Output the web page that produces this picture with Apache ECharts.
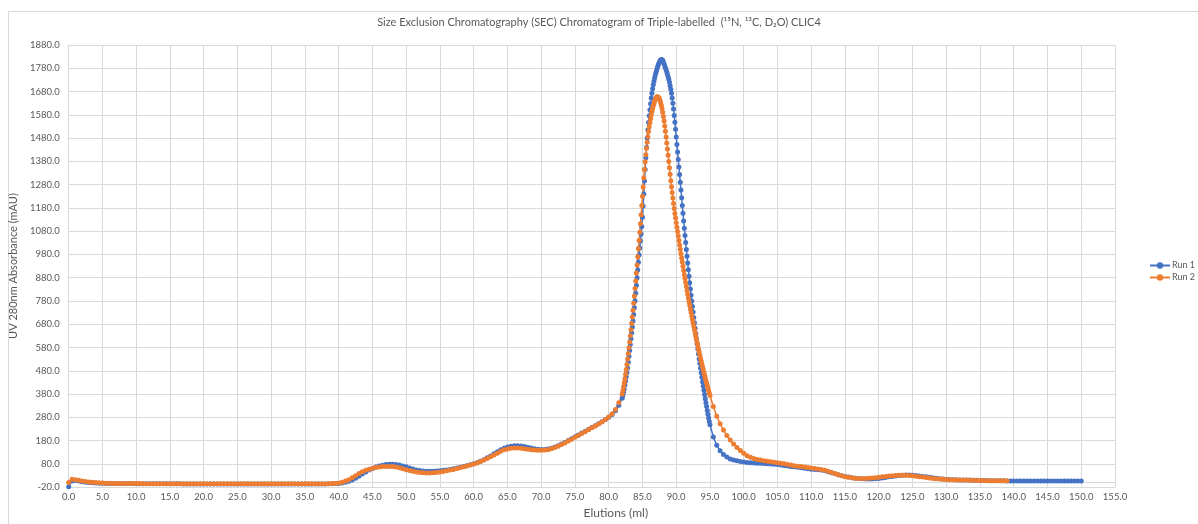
<!DOCTYPE html>
<html>
<head>
<meta charset="utf-8">
<script src="https://cdn.jsdelivr.net/npm/echarts@6/dist/echarts.min.js"></script>
<style>
  html, body { margin: 0; padding: 0; background: #ffffff; }
  #chart { width: 1198px; height: 524px; }
</style>
</head>
<body>
<div id="chart"></div>
<script>
// SEC chromatogram of triple-labelled CLIC4: UV 280 nm absorbance (mAU) against elution volume (ml)

const chartTitle = 'Size Exclusion Chromatography (SEC) Chromatogram of Triple-labelled  (¹⁵N, ¹³C, D₂O) CLIC4';
const xAxisTitle = 'Elutions (ml)';
const yAxisTitle = 'UV 280nm Absorbance (mAU)';
const seriesNames = ['Run 1', 'Run 2'];

// Sampling of the elution volume: 0.5 ml steps, 0.1 ml steps across the main peak
const coarseStep = 0.5;
const fineStep = 0.1;
const frontStart = 0;     // 0.0 .. 81.5 ml
const peakStart = 82;     // 82.0 .. 95.0 ml
const tailStart = 95.5;   // 95.5 ml .. end of run

// Axis ranges and tick spacing
const xMin = 0, xMax = 155, xStep = 5;
const yMin = -20, yMax = 1880, yStep = 100;

// ---- Run 1 (mAU) ----
const run1Front = [
  -18, 6, 8, 6, 3, 1, 0, -1, -2, -3,
  -3, -4, -4, -4, -5, -5, -5, -5, -5, -5,
  -6, -6, -6, -6, -6, -6, -6, -6, -6, -6,
  -6, -6, -6, -6, -7, -7, -7, -7, -7, -7,
  -7, -7, -7, -7, -7, -7, -7, -7, -7, -7,
  -7, -7, -7, -7, -7, -7, -7, -7, -7, -7,
  -7, -7, -7, -7, -7, -7, -7, -7, -7, -7,
  -7, -7, -7, -7, -7, -7, -7, -6, -6, -5,
  -4, -2, 1, 5, 11, 18, 27, 36, 45, 53,
  60, 66, 71, 74, 77, 78, 78, 77, 75, 71,
  67, 62, 58, 54, 51, 49, 48, 48, 48, 49,
  50, 52, 54, 56, 59, 62, 65, 68, 72, 76,
  80, 85, 91, 98, 106, 114, 123, 132, 140, 147,
  152, 156, 158, 158, 157, 154, 151, 148, 145, 143,
  142, 142, 144, 147, 152, 158, 165, 172, 180, 188,
  196, 204, 212, 220, 228, 236, 244, 252, 261, 270,
  280, 292, 308, 332
];
const run1Peak = [
  362, 375, 388, 402, 419, 436, 454, 472, 492, 517,
  542, 567, 593, 618, 643, 668, 694, 722, 751, 780,
  813, 846, 880, 913, 946, 977, 1008, 1038, 1068, 1100,
  1140, 1188, 1240, 1295, 1345, 1395, 1440, 1480, 1515, 1547,
  1576, 1602, 1628, 1652, 1673, 1692, 1709, 1724, 1738, 1751,
  1762, 1772, 1782, 1791, 1799, 1806, 1812, 1816, 1818, 1817,
  1813, 1806, 1798, 1790, 1782, 1774, 1764, 1754, 1744, 1733,
  1720, 1705, 1690, 1673, 1652, 1630, 1605, 1577, 1548, 1518,
  1485, 1452, 1420, 1388, 1356, 1323, 1290, 1257, 1224, 1190,
  1157, 1124, 1092, 1061, 1031, 1001, 972, 943, 914, 886,
  858, 831, 805, 780, 756, 732, 709, 686, 663, 640,
  618, 596, 574, 552, 531, 511, 491, 471, 452, 433,
  414, 396, 378, 360, 343, 326, 309, 293, 277, 262,
  248
];
const run1Tail = [
  195, 160, 136, 120, 109, 101, 96, 93, 90,
  88, 86, 85, 84, 83, 82, 81, 80, 79, 78,
  77, 75, 73, 71, 69, 67, 65, 63, 61, 59,
  57, 56, 55, 53, 50, 46, 42, 37, 33, 29,
  26, 23, 20, 18, 17, 16, 15, 15, 15, 16,
  17, 19, 21, 24, 26, 28, 30, 31, 32, 32,
  31, 30, 28, 26, 24, 22, 20, 18, 16, 15,
  14, 13, 12, 12, 11, 11, 10, 10, 9, 9,
  8, 8, 8, 7, 7, 7, 7, 7, 6, 6,
  6, 6, 6, 6, 6, 6, 6, 6, 6, 6,
  6, 6, 6, 6, 6, 6, 6, 6, 6, 6,
  6
];

// ---- Run 2 (mAU) ----
const run2Front = [
  0, 14, 12, 9, 6, 4, 2, 1, 0, -1,
  -2, -3, -3, -4, -4, -4, -5, -5, -5, -5,
  -5, -5, -6, -6, -6, -6, -6, -6, -6, -6,
  -6, -6, -6, -6, -6, -6, -6, -6, -6, -6,
  -6, -6, -6, -6, -6, -6, -6, -6, -6, -6,
  -6, -6, -6, -6, -6, -6, -6, -6, -6, -6,
  -6, -6, -6, -6, -6, -6, -6, -6, -6, -6,
  -6, -6, -6, -6, -6, -6, -6, -6, -5, -4,
  -2, 1, 6, 12, 20, 29, 38, 46, 52, 57,
  61, 64, 66, 68, 69, 69, 68, 66, 63, 59,
  55, 51, 48, 45, 43, 42, 41, 41, 42, 43,
  45, 47, 50, 53, 56, 60, 63, 67, 71, 75,
  79, 84, 90, 96, 103, 110, 118, 126, 134, 140,
  144, 147, 148, 148, 147, 145, 143, 141, 139, 138,
  138, 139, 141, 145, 150, 156, 163, 170, 178, 186,
  194, 202, 210, 218, 226, 235, 243, 251, 260, 270,
  281, 295, 314, 342
];
const run2Peak = [
  380, 395, 411, 428, 446, 465, 485, 507, 530, 554,
  579, 604, 630, 656, 683, 711, 740, 770, 801, 833,
  866, 900, 935, 970, 1005, 1040, 1075, 1112, 1150, 1190,
  1230, 1270, 1308, 1345, 1378, 1408, 1436, 1462, 1486, 1508,
  1528, 1546, 1563, 1579, 1594, 1607, 1619, 1629, 1638, 1646,
  1652, 1656, 1658, 1657, 1654, 1649, 1642, 1632, 1620, 1606,
  1591, 1573, 1553, 1532, 1509, 1485, 1459, 1433, 1406, 1379,
  1352, 1324, 1297, 1271, 1246, 1222, 1199, 1177, 1156, 1136,
  1116, 1097, 1078, 1059, 1040, 1021, 1002, 983, 965, 947,
  929, 911, 893, 876, 859, 842, 825, 809, 793, 777,
  761, 745, 730, 715, 700, 685, 670, 656, 642, 628,
  614, 600, 587, 574, 561, 548, 535, 522, 509, 497,
  485, 473, 461, 449, 438, 427, 416, 405, 394, 384,
  374
];
const run2Tail = [
  326, 285, 252, 225, 202, 182, 165, 150, 137,
  125, 115, 108, 103, 99, 96, 93, 91, 89, 87,
  85, 83, 80, 77, 75, 72, 70, 68, 66, 64,
  62, 60, 58, 56, 52, 48, 43, 38, 33, 29,
  25, 22, 20, 18, 17, 17, 17, 18, 19, 20,
  22, 24, 26, 28, 29, 30, 31, 31, 31, 30,
  29, 27, 25, 23, 21, 19, 17, 16, 15, 14,
  13, 12, 12, 11, 11, 10, 10, 9, 9, 8,
  8, 8, 7, 7, 7, 7, 7, 7, 7
];

// Pair each reading with its elution volume
function toPoints(front, peak, tail) {
  const pts = [];
  front.forEach((v, i) => pts.push([+(frontStart + i * coarseStep).toFixed(2), v]));
  peak.forEach((v, i) => pts.push([+(peakStart + i * fineStep).toFixed(2), v]));
  tail.forEach((v, i) => pts.push([+(tailStart + i * coarseStep).toFixed(2), v]));
  return pts;
}

const colors = ['#4472C4', '#ED7D31'];
const textColor = '#595959';
const gridColor = '#D9D9D9';
const fontFamily = 'Lato, "Open Sans", sans-serif';

const chart = echarts.init(document.getElementById('chart'), null, { renderer: 'canvas' });

function lineSeries(name, data, color) {
  return {
    name: name,
    type: 'line',
    data: data,
    symbol: 'circle',
    symbolSize: 5,
    showAllSymbol: true,
    itemStyle: { color: color },
    lineStyle: { color: color, width: 1.5 },
    emphasis: { disabled: true }
  };
}

chart.setOption({
  animation: false,
  backgroundColor: '#ffffff',
  color: colors,
  textStyle: { fontFamily: fontFamily },
  graphic: [{
    type: 'rect',
    silent: true,
    shape: { x: 8.5, y: 11.5, width: 1200, height: 520 },
    style: { fill: 'none', stroke: gridColor, lineWidth: 1 }
  }],
  title: {
    text: chartTitle,
    left: 'center',
    top: 12,
    textStyle: { fontSize: 11, fontWeight: 'normal', color: textColor, fontFamily: fontFamily }
  },
  legend: {
    orient: 'vertical',
    left: 1144,
    top: 256,
    itemWidth: 20,
    itemHeight: 8,
    itemGap: 3,
    data: seriesNames,
    textStyle: { fontSize: 9, color: textColor, fontFamily: fontFamily, padding: [0, 0, 0, -3] }
  },
  grid: { left: 62, right: 83, top: 45, bottom: 33, containLabel: false },
  xAxis: {
    type: 'value',
    min: xMin,
    max: xMax,
    interval: xStep,
    name: xAxisTitle,
    nameLocation: 'middle',
    nameGap: 15,
    nameTextStyle: { fontSize: 12, color: textColor, fontFamily: fontFamily, padding: [0, 0, 0, 48] },
    axisLine: { show: true, lineStyle: { color: gridColor, width: 1 } },
    axisTick: { show: false },
    axisLabel: {
      color: textColor,
      fontSize: 9.5,
      margin: 5,
      fontFamily: fontFamily,
      formatter: v => v.toFixed(1)
    },
    splitLine: { show: true, lineStyle: { color: gridColor, width: 1 } }
  },
  yAxis: {
    type: 'value',
    min: yMin,
    max: yMax,
    interval: yStep,
    name: yAxisTitle,
    nameLocation: 'middle',
    nameGap: 36,
    nameTextStyle: { fontSize: 11, color: textColor, fontFamily: fontFamily },
    axisLine: { show: true, lineStyle: { color: gridColor, width: 1 } },
    axisTick: { show: false },
    axisLabel: {
      color: textColor,
      fontSize: 9.5,
      margin: 9,
      fontFamily: fontFamily,
      formatter: v => v.toFixed(1)
    },
    splitLine: { show: true, lineStyle: { color: gridColor, width: 1 } }
  },
  series: [
    lineSeries(seriesNames[0], toPoints(run1Front, run1Peak, run1Tail), colors[0]),
    lineSeries(seriesNames[1], toPoints(run2Front, run2Peak, run2Tail), colors[1])
  ]
});
</script>
</body>
</html>
